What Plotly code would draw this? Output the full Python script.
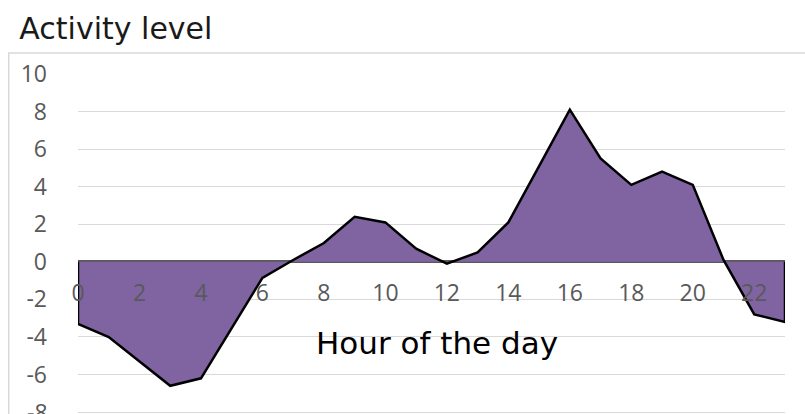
import plotly.graph_objects as go

## Hours of the day and activity level
hours = list(range(24))
activity = [-3.3, -4.0, -5.3, -6.6, -6.2, -3.5, -0.85, 0.1, 1.0, 2.4, 2.1, 0.7,
            -0.1, 0.5, 2.1, 5.1, 8.1, 5.5, 4.1, 4.8, 4.1, 0.1, -2.8, -3.2]
x_ticks = list(range(0, 24, 2))
y_ticks = list(range(-8, 11, 2))
y_labels = [str(v) for v in y_ticks]   # plain hyphen, not the unicode minus

TICK_FONT = "Open Sans"
TEXT_FONT = "DejaVu Sans"
PURPLE = "#8064A2"
GREY = "#595959"

## Close the area down to zero at both ends so the outline has vertical edges
poly_x = [hours[0]] + hours + [hours[-1]]
poly_y = [0] + activity + [0]

fig = go.Figure()
fig.add_trace(go.Scatter(
    x=poly_x, y=poly_y, mode="lines", fill="toself",
    fillcolor=PURPLE, line=dict(color="black", width=2.5),
    hoverinfo="skip", showlegend=False,
))

## Light border round the chart area
fig.add_shape(type="rect", xref="paper", yref="paper",
              x0=-0.098, x1=1.2, y0=-0.2, y1=1.062,
              line=dict(color="#d9d9d9", width=1.5), layer="below")

fig.add_annotation(x=11.68, y=-4.3, xref="x", yref="y", text="Hour of the day",
                   showarrow=False, font=dict(family=TEXT_FONT, size=31, color="black"))

## Bottom tick label sits on the window edge, plotly drops it, so add it by hand
fig.add_annotation(x=0, xref="paper", xanchor="right", xshift=-28,
                   y=y_ticks[0], yref="y", yanchor="middle", text=y_labels[0],
                   showarrow=False, font=dict(family=TICK_FONT, size=23, color=GREY))

fig.update_layout(
    width=805, height=414,
    margin=dict(l=78, r=20, t=74, b=0),
    paper_bgcolor="white", plot_bgcolor="white",
    title=dict(text="Activity level", xref="container", yref="container",
               x=0.024, xanchor="left", y=0.932, yanchor="middle",
               font=dict(family=TEXT_FONT, size=30, color="#1a1a1a")),
    xaxis=dict(range=[0, 23], tickvals=x_ticks, showgrid=False, zeroline=False,
               showline=False, anchor="free", position=8.1 / 18.1,
               ticklabelstandoff=15, layer="above traces",
               tickfont=dict(family=TICK_FONT, size=23, color=GREY)),
    yaxis=dict(range=[-8.1, 10], tickvals=y_ticks, ticktext=y_labels,
               showgrid=True, gridcolor="#d9d9d9",
               gridwidth=1, zeroline=True, zerolinecolor=GREY, zerolinewidth=2.5,
               showline=False, ticklabelstandoff=30, layer="above traces",
               tickfont=dict(family=TICK_FONT, size=23, color=GREY)),
)

## Drop the page's default body margin so the chart sits at the window corner
fig.write_html("out.html", config={"displayModeBar": False},
               post_script="document.body.style.margin='0';")
